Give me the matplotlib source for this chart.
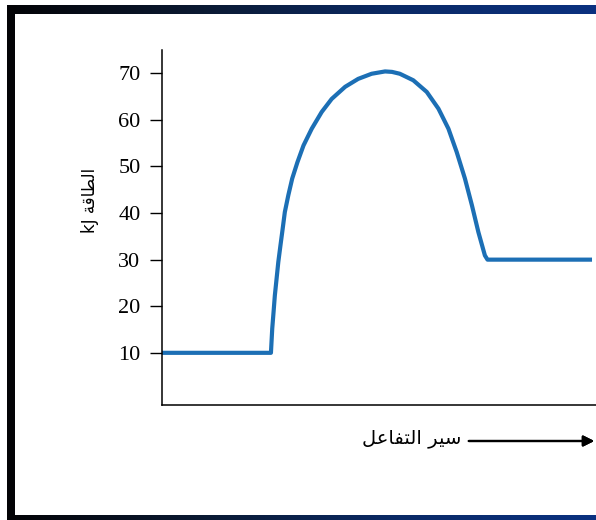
import matplotlib.pyplot as plt
import numpy as np
from matplotlib.colors import LinearSegmentedColormap

# reaction progress (arbitrary units) and energy (kJ)
progress = [0, 25.1, 25.4, 25.7, 26.0, 26.4, 26.8, 27.3, 27.8, 28.3, 29.1,
            30.0, 31.2, 32.6, 34.5, 36.8, 39.1, 42.2, 45.2, 48.3, 51.4, 53.0,
            54.8, 57.9, 61.0, 63.7, 66.0, 67.9, 69.8, 71.4, 72.9, 74.4, 75.0, 98.6]
energy = [10, 10, 15.2, 18.7, 22.3, 25.9, 29.5, 33.1, 36.6, 40.2, 43.8,
          47.4, 50.9, 54.5, 58.1, 61.7, 64.5, 67.1, 68.8, 69.9, 70.4, 70.3,
          69.9, 68.5, 66.0, 62.4, 58.1, 53.1, 47.4, 41.7, 35.9, 30.9, 30, 30]
yticks = [10, 20, 30, 40, 50, 60, 70]

# Arabic text in visual order (presentation forms)
ylabel = 'kJ \ufe94\ufed7\ufe8e\ufec4\ufedf\ufe8d'        # الطاقة kJ
xlabel = '\ufede\ufecb\ufe8e\ufed4\ufe98\ufedf\ufe8d \ufeae\ufef4\ufeb3'  # سير التفاعل

W, H = 596, 520
fig = plt.figure(figsize=(W / 100, H / 100), dpi=100, facecolor='white')
plt.rcParams['font.family'] = 'serif'
plt.rcParams['font.serif'] = ['Liberation Serif', 'DejaVu Serif']

# dark frame with gradient
cmap = LinearSegmentedColormap.from_list('frame', ['#030306', '#0b1a33', '#0a2a66', '#0b3180'])
grad = np.linspace(0, 1, 256).reshape(1, -1)
for (x0, y0, x1, y1) in [(7, 5, 596, 14), (7, 515, 596, 520)]:
    bar = fig.add_axes([x0 / W, 1 - y1 / H, (x1 - x0) / W, (y1 - y0) / H])
    bar.imshow(grad, aspect='auto', cmap=cmap, extent=[0, 1, 0, 1])
    bar.axis('off')
side = fig.add_axes([7 / W, 1 - 520 / H, 8 / W, 515 / H])
side.set_facecolor('#030306')
side.set_xticks([])
side.set_yticks([])
for s in side.spines.values():
    s.set_visible(False)

# main axes
ax = fig.add_axes([162 / W, 1 - 405 / H, (W - 162) / W, (405 - 50) / H])
ax.plot(progress, energy, color='#1c6fb5', linewidth=3, solid_joinstyle='round')
ax.set_xlim(0, 100)
ax.set_ylim(-1.2, 75.0)
ax.set_yticks(yticks)
ax.set_xticks([])
ax.tick_params(axis='y', direction='out', length=8.5, width=1, pad=7, labelsize=16)
ax.spines['top'].set_visible(False)
ax.spines['right'].set_visible(False)
ax.spines['left'].set_linewidth(1.1)
ax.spines['bottom'].set_linewidth(1.1)

fig.text(90 / W, 1 - 200 / H, ylabel, rotation=90, ha='center', va='center',
         fontsize=12, family='DejaVu Sans')
fig.text(412 / W, 1 - 438 / H, xlabel, ha='center', va='center',
         fontsize=14, family='DejaVu Sans')
fig.add_artist(plt.annotate('', xy=(597 / W, 1 - 441 / H), xytext=(466 / W, 1 - 441 / H),
                            xycoords='figure fraction', textcoords='figure fraction',
                            arrowprops=dict(arrowstyle='-|>', color='black', lw=1.6,
                                            mutation_scale=16)))

fig.savefig('out.png', dpi=100, facecolor='white')
